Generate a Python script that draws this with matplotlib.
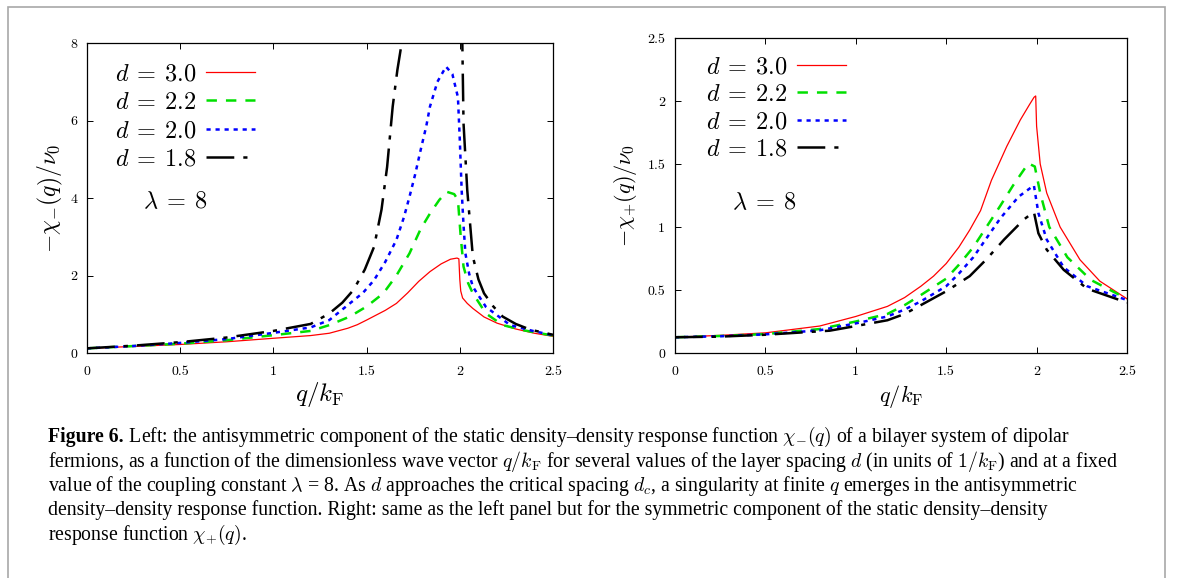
import numpy as np
import matplotlib
matplotlib.use("Agg")
import matplotlib.pyplot as plt
from matplotlib.patches import Rectangle

plt.rcParams['mathtext.fontset'] = 'cm'
plt.rcParams['lines.scale_dashes'] = False
plt.rcParams['axes.formatter.use_mathtext'] = True

# ---- data: antisymmetric component chi_-(q), lambda = 8 ----
q_m_30 = [0, 0.25, 0.5, 0.75, 1.0, 1.2, 1.3, 1.4, 1.45, 1.5, 1.6, 1.66, 1.72, 1.78, 1.84, 1.9, 1.95,
          1.985, 1.995, 2.0, 2.005, 2.015, 2.04, 2.07, 2.13, 2.2, 2.3, 2.4, 2.5]
chi_m_30 = [0.12, 0.17, 0.22, 0.29, 0.38, 0.45, 0.51, 0.64, 0.73, 0.85, 1.1, 1.28, 1.55, 1.85, 2.1, 2.3, 2.42,
            2.45, 2.43, 1.9, 1.6, 1.42, 1.28, 1.15, 0.93, 0.77, 0.62, 0.51, 0.43]

q_m_22 = [0, 0.25, 0.5, 0.75, 1.0, 1.2, 1.3, 1.41, 1.5, 1.59, 1.66, 1.73, 1.79, 1.84, 1.89, 1.93,
          1.97, 1.99, 2.005, 2.02, 2.045, 2.07, 2.14, 2.23, 2.35, 2.5]
chi_m_22 = [0.12, 0.18, 0.24, 0.33, 0.46, 0.57, 0.72, 0.94, 1.2, 1.54, 2.0, 2.57, 3.2, 3.6, 3.95, 4.16,
            4.1, 3.95, 3.0, 2.23, 1.8, 1.54, 1.02, 0.72, 0.58, 0.45]

q_m_20 = [0, 0.25, 0.5, 0.75, 1.0, 1.2, 1.3, 1.41, 1.48, 1.54, 1.6, 1.66, 1.7, 1.73, 1.76, 1.79,
          1.82, 1.84, 1.88, 1.926, 1.96, 1.99, 2.0, 2.01, 2.02, 2.03, 2.05, 2.07, 2.14, 2.27, 2.4, 2.5]
chi_m_20 = [0.12, 0.18, 0.26, 0.36, 0.52, 0.66, 0.85, 1.28, 1.55, 1.88, 2.35, 2.92, 3.5, 4.03, 4.6, 5.24,
            5.85, 6.36, 7.0, 7.39, 7.2, 6.6, 5.5, 4.2, 3.3, 2.57, 2.05, 1.71, 1.19, 0.72, 0.56, 0.46]

# d = 1.8 diverges between q ~ 1.7 and q ~ 2.01
q_m_18_lo = [0, 0.25, 0.5, 0.75, 1.0, 1.2, 1.3, 1.37, 1.43, 1.49, 1.54, 1.58, 1.61, 1.64, 1.665, 1.685, 1.70]
chi_m_18_lo = [0.12, 0.19, 0.28, 0.4, 0.57, 0.75, 1.02, 1.3, 1.63, 2.15, 2.74, 3.7, 4.8, 6.36, 7.3, 7.9, 8.6]
q_m_18_hi = [2.012, 2.02, 2.04, 2.07, 2.1, 2.13, 2.18, 2.23, 2.3, 2.38, 2.5]
chi_m_18_hi = [8.5, 5.93, 4.2, 2.49, 1.9, 1.54, 1.2, 0.94, 0.75, 0.6, 0.47]

# ---- data: symmetric component chi_+(q), lambda = 8 ----
q_p_30 = [0, 0.25, 0.5, 0.8, 1.0, 1.175, 1.27, 1.36, 1.43, 1.5, 1.57, 1.63, 1.69, 1.75, 1.835, 1.91, 1.96,
          1.986, 1.995, 2.0, 2.02, 2.056, 2.13, 2.24, 2.35, 2.5]
chi_p_30 = [0.125, 0.14, 0.16, 0.214, 0.29, 0.37, 0.44, 0.53, 0.61, 0.71, 0.84, 0.976, 1.13, 1.37, 1.64, 1.85, 1.97,
            2.03, 2.04, 1.8, 1.5, 1.27, 1.0, 0.74, 0.57, 0.43]

q_p_22 = [0, 0.25, 0.5, 0.8, 1.0, 1.175, 1.27, 1.36, 1.5, 1.57, 1.65, 1.8, 1.87, 1.954, 1.99, 2.02, 2.07, 2.17, 2.3, 2.5]
chi_p_22 = [0.125, 0.135, 0.15, 0.19, 0.25, 0.31, 0.38, 0.46, 0.59, 0.70, 0.84, 1.17, 1.33, 1.505, 1.48, 1.27, 1.0, 0.76, 0.58, 0.43]

q_p_20 = [0, 0.25, 0.5, 0.8, 1.0, 1.175, 1.27, 1.36, 1.5, 1.57, 1.65, 1.8, 1.9, 1.985, 2.01, 2.056, 2.15, 2.28, 2.5]
chi_p_20 = [0.125, 0.133, 0.148, 0.18, 0.235, 0.29, 0.345, 0.41, 0.53, 0.63, 0.76, 1.07, 1.24, 1.33, 1.11, 0.90, 0.68, 0.53, 0.42]

q_p_18 = [0, 0.25, 0.5, 0.855, 1.0, 1.175, 1.27, 1.36, 1.5, 1.63, 1.72, 1.82, 1.93, 1.985, 2.01, 2.056, 2.15, 2.28, 2.5]
chi_p_18 = [0.125, 0.13, 0.145, 0.177, 0.214, 0.26, 0.31, 0.38, 0.49, 0.61, 0.74, 0.90, 1.06, 1.12, 0.95, 0.82, 0.66, 0.51, 0.40]

legend_labels = [r'$d\:=\:3.0$', r'$d\:=\:2.2$', r'$d\:=\:2.0$', r'$d\:=\:1.8$']
x_ticks = [0, 0.5, 1, 1.5, 2, 2.5]
y_ticks_left = [0, 2, 4, 6, 8]
y_ticks_right = [0, 0.5, 1, 1.5, 2, 2.5]

caption_lines = [
    r" Left: the antisymmetric component of the static density–density response function $\chi_{-}(q)$ of a bilayer system of dipolar",
    r"fermions, as a function of the dimensionless wave vector $q/k_{\rm F}$ for several values of the layer spacing $d$ (in units of $1/k_{\rm F}$) and at a fixed",
    r"value of the coupling constant $\lambda$ = 8. As $d$ approaches the critical spacing $d_c$, a singularity at finite $q$ emerges in the antisymmetric",
    r"density–density response function. Right: same as the left panel but for the symmetric component of the static density–density",
    r"response function $\chi_{+}(q)$.",
]

# line styles (dash lengths in points)
red = dict(color='#ff0000', lw=0.9, ls='-')
green = dict(color='#00e000', lw=1.8, ls=(0, (7.5, 6.5)))
blue = dict(color='#0000ff', lw=1.8, ls=(0, (3, 3.5)))
black = dict(color='k', lw=1.8, ls=(0, (20, 6.5, 3, 6.5)))

W, H = 1181, 578
fig = plt.figure(figsize=(W / 100, H / 100), dpi=100)


def px_axes(x0, y_top, x1, y_bot):
    return fig.add_axes([x0 / W, 1 - y_bot / H, (x1 - x0) / W, (y_bot - y_top) / H])


def style_axes(ax, yticks, ylim):
    ax.set_xlim(0, 2.5)
    ax.set_ylim(*ylim)
    ax.set_xticks(x_ticks)
    ax.set_yticks(yticks)
    ax.set_xticklabels([f'{t:g}' for t in x_ticks], fontfamily='cmr10', fontsize=10)
    ax.set_yticklabels([f'{t:g}' for t in yticks], fontfamily='cmr10', fontsize=10)
    ax.tick_params(direction='in', top=True, right=True, length=4, width=0.7)
    ax.tick_params(axis='x', pad=9)
    ax.tick_params(axis='y', pad=7)
    for s in ax.spines.values():
        s.set_linewidth(0.9)


def add_legend(ax, x, y, spacing):
    ax.legend(loc='upper left', bbox_to_anchor=(x, y), frameon=False, markerfirst=False,
              fontsize=17.5, handlelength=2.0, handletextpad=0.4, labelspacing=spacing, borderpad=0,
              borderaxespad=0)


# ---- left panel ----
axl = px_axes(87, 43, 553, 353)
axl.plot(q_m_30, chi_m_30, label=legend_labels[0], **red)
axl.plot(q_m_22, chi_m_22, label=legend_labels[1], **green)
axl.plot(q_m_20, chi_m_20, label=legend_labels[2], **blue)
axl.plot(q_m_18_lo, chi_m_18_lo, label=legend_labels[3], **black)
axl.plot(q_m_18_hi, chi_m_18_hi, **black)
style_axes(axl, y_ticks_left, (0, 8))
axl.set_xlabel(r'$q/k_{\rm F}$', fontsize=18, labelpad=2)
axl.set_ylabel(r'$-\chi_{-}(q)/\nu_0$', fontsize=17, labelpad=4)
add_legend(axl, 0.06, 0.94, 0.18)
axl.text(0.12, 0.49, r'$\lambda\:=\:8$', transform=axl.transAxes, fontsize=17.5, va='center')

# ---- right panel ----
axr = px_axes(675, 38, 1127, 353)
axr.plot(q_p_30, chi_p_30, label=legend_labels[0], **red)
axr.plot(q_p_22, chi_p_22, label=legend_labels[1], **green)
axr.plot(q_p_20, chi_p_20, label=legend_labels[2], **blue)
axr.plot(q_p_18, chi_p_18, label=legend_labels[3], **black)
style_axes(axr, y_ticks_right, (0, 2.5))
axr.set_xlabel(r'$q/k_{\rm F}$', fontsize=16, labelpad=4)
axr.set_ylabel(r'$-\chi_{+}(q)/\nu_0$', fontsize=16, labelpad=6)
add_legend(axr, 0.068, 0.948, 0.14)
axr.text(0.126, 0.479, r'$\lambda\:=\:8$', transform=axr.transAxes, fontsize=17.5, va='center')

# ---- outer frame ----
fig.patches.append(Rectangle((8 / W, -0.05), (1165 - 8) / W, 1.05 - 7 / H, transform=fig.transFigure,
                             fill=False, ec='#a8a8a8', lw=1.2))

# ---- caption ----
renderer = fig.canvas.get_renderer()
cap_font = ['Liberation Serif', 'DejaVu Serif']
probe = fig.text(0, 0, caption_lines[1], fontfamily=cap_font, fontsize=13)
w = probe.get_window_extent(renderer).width
probe.remove()
cap_size = 13 * 1067 / w

x0 = 48 / W
baselines = [442, 467, 491, 515, 540]
head = fig.text(x0, 1 - baselines[0] / H, 'Figure 6.', fontfamily=cap_font, fontsize=cap_size,
                fontweight='bold', va='baseline')
hw = head.get_window_extent(renderer).width
fig.text(x0 + hw / W, 1 - baselines[0] / H, caption_lines[0], fontfamily=cap_font, fontsize=cap_size,
         va='baseline')
for line, yb in zip(caption_lines[1:], baselines[1:]):
    fig.text(x0, 1 - yb / H, line, fontfamily=cap_font, fontsize=cap_size, va='baseline')

fig.savefig('out.png', dpi=100)
